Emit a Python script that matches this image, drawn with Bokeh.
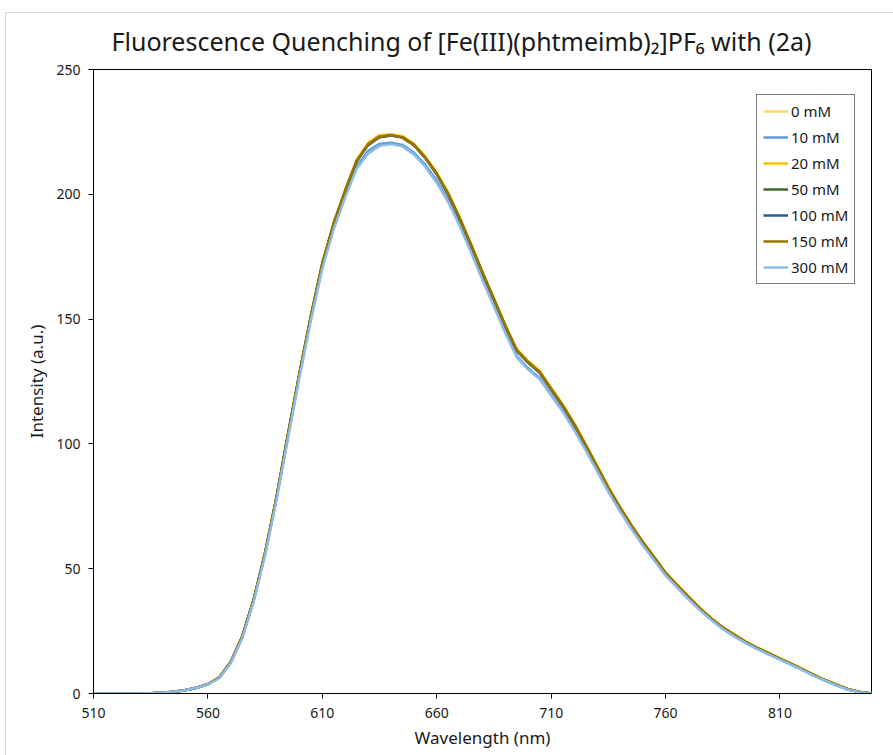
from bokeh.plotting import figure
from bokeh.models import FixedTicker, Legend, LegendItem, ColumnDataSource
from bokeh.embed import file_html
from bokeh.resources import INLINE

wavelength = list(range(510, 851, 5))

lead = [0.0, 0.0, 0.0, 0.0, 0.0, 0.1, 0.3, 0.7, 1.3, 2.3]

i_0mM = lead + [3.8, 6.5, 12.7, 22.9, 37.8, 56.6, 78.9, 104.0, 128.3, 151.2, 172.3, 188.4, 201.4, 213.5, 220.0, 223.2, 223.8, 222.9, 219.9, 214.8, 208.3, 200.3, 190.5, 179.8, 168.6, 158.0, 147.2, 137.6, 132.8, 128.8, 122.1, 115.5, 108.0, 99.7, 91.1, 82.5, 74.7, 67.4, 60.7, 54.6, 48.3, 43.4, 38.7, 34.1, 30.0, 26.4, 23.5, 20.7, 18.3, 16.2, 14.0, 11.9, 9.7, 7.3, 5.3, 3.4, 1.7, 0.6, 0.0]
i_10mM = lead + [3.7, 6.3, 12.4, 22.4, 37.2, 55.9, 78.1, 103.0, 127.2, 150.1, 171.0, 186.8, 199.6, 211.2, 217.3, 220.2, 220.7, 219.8, 216.7, 211.8, 205.5, 197.8, 188.2, 177.6, 166.5, 155.8, 145.0, 135.2, 130.2, 126.4, 119.8, 113.4, 106.0, 97.9, 89.5, 81.1, 73.4, 66.2, 59.6, 53.6, 47.5, 42.7, 38.0, 33.5, 29.5, 25.9, 23.0, 20.3, 17.9, 15.8, 13.7, 11.6, 9.4, 7.1, 5.1, 3.2, 1.5, 0.5, 0.0]
i_20mM = lead + [3.8, 6.6, 12.8, 23.0, 37.9, 56.8, 79.1, 104.2, 128.5, 151.5, 172.6, 188.8, 201.9, 213.9, 220.6, 223.7, 224.1, 223.3, 220.3, 215.2, 208.7, 200.7, 190.9, 180.2, 169.0, 158.4, 147.6, 138.0, 133.2, 129.2, 122.5, 115.9, 108.4, 100.1, 91.5, 82.9, 75.0, 67.7, 61.0, 54.9, 48.6, 43.7, 39.0, 34.4, 30.3, 26.7, 23.8, 20.9, 18.5, 16.4, 14.2, 12.1, 9.9, 7.5, 5.4, 3.5, 1.8, 0.7, 0.0]
i_50mM = lead + [3.7, 6.4, 12.6, 22.8, 37.6, 56.4, 78.7, 103.8, 128.1, 151.1, 172.2, 188.3, 201.3, 213.3, 219.9, 223.0, 223.6, 222.8, 219.8, 214.6, 208.1, 200.1, 190.3, 179.6, 168.5, 157.9, 147.1, 137.4, 132.6, 128.6, 121.9, 115.3, 107.8, 99.5, 90.9, 82.3, 74.5, 67.3, 60.6, 54.5, 48.2, 43.3, 38.6, 34.0, 29.9, 26.3, 23.4, 20.6, 18.2, 16.1, 13.9, 11.8, 9.6, 7.3, 5.2, 3.3, 1.6, 0.6, 0.0]
i_100mM = lead + [3.7, 6.4, 12.6, 22.7, 37.5, 56.3, 78.6, 103.7, 128.0, 151.0, 172.1, 188.2, 201.2, 213.2, 219.7, 222.9, 223.6, 222.7, 219.7, 214.5, 208.0, 200.0, 190.2, 179.5, 168.4, 157.8, 147.0, 137.3, 132.5, 128.5, 121.8, 115.2, 107.7, 99.4, 90.8, 82.2, 74.4, 67.2, 60.5, 54.4, 48.1, 43.2, 38.5, 33.9, 29.9, 26.3, 23.3, 20.5, 18.1, 16.0, 13.8, 11.7, 9.5, 7.2, 5.2, 3.3, 1.6, 0.6, 0.0]
i_150mM = lead + [3.7, 6.4, 12.6, 22.8, 37.6, 56.5, 78.8, 103.9, 128.2, 151.2, 172.3, 188.4, 201.4, 213.4, 220.0, 223.1, 223.7, 222.8, 219.8, 214.7, 208.2, 200.2, 190.4, 179.7, 168.6, 158.0, 147.2, 137.5, 132.7, 128.7, 122.0, 115.4, 107.9, 99.6, 91.0, 82.4, 74.6, 67.3, 60.6, 54.5, 48.2, 43.3, 38.6, 34.0, 29.9, 26.3, 23.4, 20.6, 18.2, 16.1, 13.9, 11.8, 9.6, 7.3, 5.3, 3.3, 1.6, 0.6, 0.0]
i_300mM = lead + [3.6, 6.2, 12.2, 22.1, 36.8, 55.4, 77.5, 102.3, 126.5, 149.4, 170.2, 186.0, 198.7, 210.2, 216.3, 219.4, 220.1, 219.2, 216.0, 211.0, 204.6, 196.9, 187.3, 176.7, 165.6, 155.0, 144.3, 134.6, 129.7, 125.9, 119.4, 113.0, 105.6, 97.6, 89.2, 80.8, 73.1, 66.0, 59.4, 53.4, 47.3, 42.5, 37.8, 33.4, 29.4, 25.8, 22.9, 20.2, 17.8, 15.7, 13.6, 11.5, 9.3, 7.0, 5.0, 3.1, 1.5, 0.5, 0.0]

series_names = ["0 mM", "10 mM", "20 mM", "50 mM", "100 mM", "150 mM", "300 mM"]
series_values = [i_0mM, i_10mM, i_20mM, i_50mM, i_100mM, i_150mM, i_300mM]
series_colors = ["#FFD966", "#5B9BD5", "#FFC000", "#43682B", "#255E91", "#997300", "#8FBCE6"]

x_ticks = [510, 560, 610, 660, 710, 760, 810]
y_ticks = [0, 50, 100, 150, 200, 250]

for v in series_values:
    if len(v) != len(wavelength):
        raise ValueError("length mismatch %d vs %d" % (len(v), len(wavelength)))

FONT = "Noto Sans"
TXT = "#1a1a1a"

p = figure(width=888, height=743, x_range=(510, 850), y_range=(0, 250),
           output_backend="svg", toolbar_location=None,
           min_border_left=87, min_border_right=23, min_border_top=56, min_border_bottom=63,
           title="Fluorescence Quenching of [Fe(III)(phtmeimb)\u2082]PF\u2086 with (2a)")
p.margin = (12, 0, 0, 5)
p.styles = {"border-top": "1px solid #D9D9D9", "border-left": "1px solid #D9D9D9"}

p.title.align = "left"
p.title.offset = 18
p.title.vertical_align = "top"
p.title.text_font = FONT
p.title.text_font_size = "25px"
p.title.text_font_style = "normal"
p.title.text_color = TXT
p.title.standoff = 19

p.xgrid.visible = False
p.ygrid.visible = False
p.outline_line_color = "black"
p.outline_line_width = 1

for ax in (p.xaxis[0], p.yaxis[0]):
    ax.major_label_text_font = FONT
    ax.major_label_text_font_size = "14px"
    ax.major_label_text_color = TXT
    ax.axis_label_text_font = FONT
    ax.axis_label_text_font_size = "17px"
    ax.axis_label_text_font_style = "normal"
    ax.axis_label_text_color = TXT
    ax.axis_line_color = "black"
    ax.major_tick_line_color = "black"
    ax.major_tick_out = 5
    ax.major_tick_in = 0
    ax.minor_tick_line_color = None

p.xaxis.ticker = FixedTicker(ticks=x_ticks)
p.yaxis.ticker = FixedTicker(ticks=y_ticks)
p.xaxis.axis_label = "Wavelength (nm)"
p.yaxis.axis_label = "Intensity (a.u.)"
p.xaxis.major_label_standoff = 9
p.yaxis.major_label_standoff = 8

items = []
for name, vals, col in zip(series_names, series_values, series_colors):
    src = ColumnDataSource(dict(x=wavelength, y=vals))
    r = p.line("x", "y", source=src, line_color=col, line_width=2.5, line_join="round")
    items.append(LegendItem(label=name, renderers=[r]))

legend = Legend(items=items, location=(663, 409))
legend.label_text_font = FONT
legend.label_text_font_size = "15px"
legend.label_text_color = TXT
legend.border_line_color = "black"
legend.border_line_width = 1
legend.background_fill_alpha = 1
legend.glyph_width = 25
legend.glyph_height = 20
legend.label_height = 20
legend.label_standoff = 3
legend.spacing = 6
legend.padding = 6
legend.margin = 0
p.add_layout(legend, "center")

open("out.html", "w").write(file_html(p, INLINE))
